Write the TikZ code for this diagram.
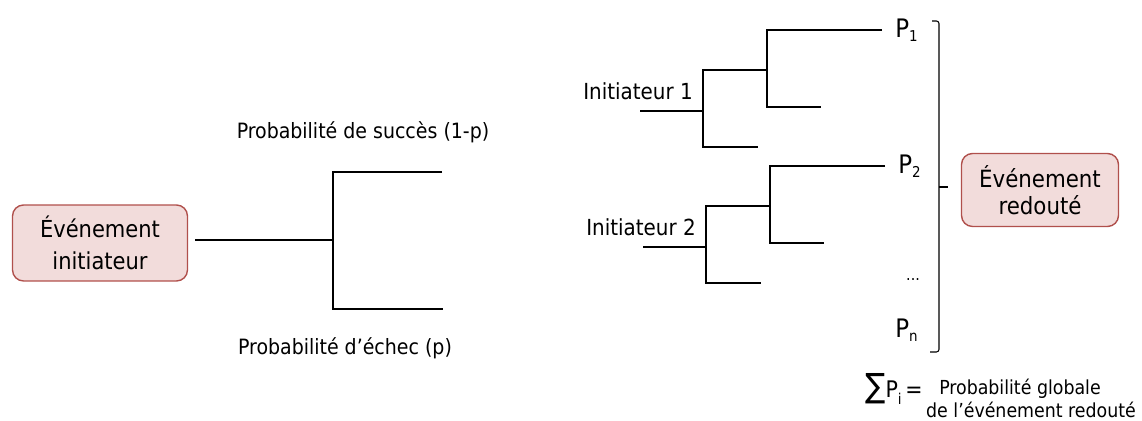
\documentclass[tikz,border=0pt]{standalone}
\usepackage{fontspec}
\setmainfont{DejaVu Sans Condensed}
\usepackage{tikz}
\usetikzlibrary{positioning}
\definecolor{boxfill}{HTML}{F2DCDB}
\definecolor{boxline}{HTML}{B0504C}
\newcommand{\Psub}[2][-0.25ex]{P\raisebox{#1}{\fontsize{8.5}{8.5}\selectfont #2}}

\begin{document}
\begin{tikzpicture}[x=0.02cm,y=-0.02cm,
evtbox/.style={draw=boxline,fill=boxfill,line width=0.8pt,rounded corners=0.22cm,align=center,inner sep=0pt},
branch/.style={line width=1.2pt},
bigbranch/.style={line width=1.7pt},
pnode/.style={anchor=west,inner xsep=0.26cm,inner ysep=0pt,font=\fontsize{14.5}{14.5}\selectfont},
txt/.style={inner sep=0pt,font=\fontsize{12}{14}\selectfont}]
\useasboundingbox (0,0) rectangle (1142,421);

\node[evtbox,minimum width=3.5cm,minimum height=1.52cm,font=\fontsize{13.3}{18.2}\selectfont] (init) at (100,243) {Événement\\initiateur};
\coordinate (s0) at (195,240);
\coordinate (j0) at (333,240);
\coordinate (ok) at (442,172);
\coordinate (ko) at (443,309);
\draw[bigbranch] (s0) -- (j0);
\draw[bigbranch] (ok) -| (j0) |- (ko);

\node[txt] (succ) at (363,132) {Probabilité de succès (1-p)};
\node[txt] (fail) at (345,348) {Probabilité d’échec (p)};

\foreach \k/\dx/\dy in {1/0/0,2/3/136}{
\begin{scope}[shift={(\dx,\dy)}]
\node[txt,font=\fontsize{12.6}{14}\selectfont] (ini\k) at (638,91) {Initiateur \k};
\coordinate (s\k) at (640,111);
\coordinate (a\k) at (703,111);
\coordinate (b\k) at (767,70);
\node[pnode] (P\k) at (882,30) {\Psub{\k}};
\draw[branch] (s\k) -- (a\k);
\draw[branch] (b\k) -| (a\k) |- (758,147);
\draw[branch] (P\k.west) -| (b\k) |- (821,107);
\end{scope}
}

\node[font=\fontsize{9}{9}\selectfont] (dots) at (913,280) {...};
\node[pnode] (Pn) at (882,330) {\Psub{n}};

\coordinate (brT) at (939,21);
\coordinate (brM) at (939,187);
\coordinate (brB) at (939,352);
\draw[line width=0.6pt,rounded corners=1.5pt] ([xshift=-0.14cm]brT) -- (brT) -- (brB) -- ([xshift=-0.18cm]brB);
\draw[line width=0.6pt] (brM) -- ([xshift=0.18cm]brM);

\node[evtbox,minimum width=3.14cm,minimum height=1.46cm,font=\fontsize{13.5}{15}\selectfont] (fear) at (1040,190) {Événement\\redouté};

\node[inner sep=0pt,font=\fontsize{13}{13}\selectfont] (sum) at (894,389) {{\fontsize{19}{19}\selectfont ∑}\Psub[-0.5ex]{i}\,=};
\node[txt,font=\fontsize{11}{12}\selectfont] (glob) at (1020,389) {Probabilité globale};
\node[txt,font=\fontsize{11}{12}\selectfont] (glob2) at (1031,410) {de l’événement redouté};
\end{tikzpicture}
\end{document}
